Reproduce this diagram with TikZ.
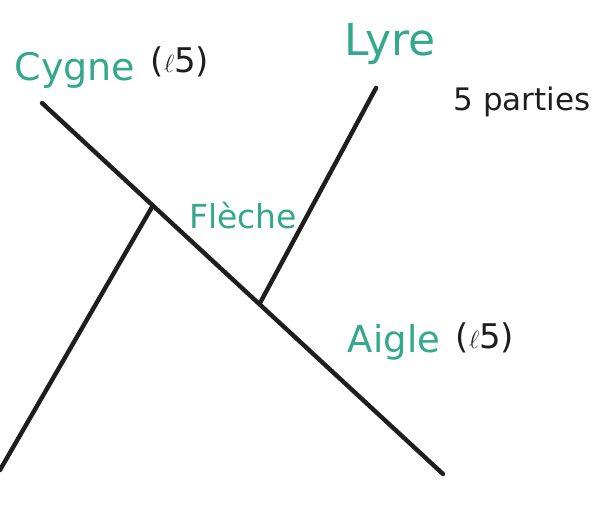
\documentclass[tikz,border=0pt]{standalone}
\usepackage{fontspec}
\setmainfont{DejaVu Sans}
\definecolor{teal1}{RGB}{52,168,140}
\definecolor{ink}{RGB}{30,30,30}
\tikzset{
  stroke/.style={draw=ink,line width=4.4pt,line cap=round},
  star/.style={text=teal1,inner sep=0pt,anchor=base},
  note/.style={text=ink,inner sep=0pt,anchor=base,font=\fontsize{34}{38}\selectfont},
}
\begin{document}
\begin{tikzpicture}[x=1pt,y=-1pt]
\useasboundingbox[fill=white] (0,0) rectangle (613,507);
% skeleton
\coordinate (c1) at (42,103);
\coordinate (c2) at (443,474);
\coordinate (j1) at (152,207);
\coordinate (j2) at (260,303);
\coordinate (l1) at (0,470);
\coordinate (ly) at (376,88);
\draw[stroke] (c1) -- (c2);
\draw[stroke] (j1) -- (l1);
\draw[stroke] (j2) -- (ly);
% labels
\node[star,font=\fontsize{38}{42}\selectfont] (cygne) at (75,80) {Cygne};
\node[note] (n1) at (180,72) {(\ensuremath{\ell}5)};
\node[star,font=\fontsize{44}{48}\selectfont] (lyre) at (390,55) {Lyre};
\node[note,font=\fontsize{31}{35}\selectfont] (parties) at (522,110) {5 parties};
\node[star,font=\fontsize{33}{37}\selectfont] (fleche) at (243,228) {Flèche};
\node[star,font=\fontsize{37}{41}\selectfont] (aigle) at (394,352) {Aigle};
\node[note] (n2) at (485,348) {(\ensuremath{\ell}5)};
\end{tikzpicture}
\end{document}
